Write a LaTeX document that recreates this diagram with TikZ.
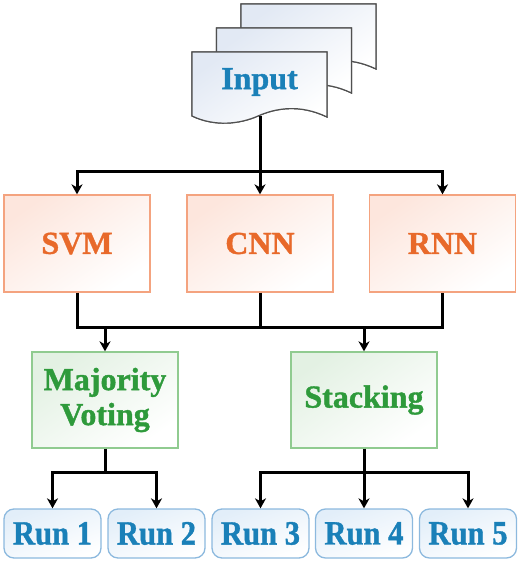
\documentclass[tikz,border=0pt]{standalone}
\usepackage{fontspec}
\setmainfont{Liberation Serif}[BoldFeatures={FakeBold=1.2}]
\usetikzlibrary{arrows.meta}
\definecolor{txtblue}{HTML}{1A80B8}
\definecolor{bdblue}{HTML}{8CB9DE}
\definecolor{fillblue}{HTML}{E2EEF9}
\definecolor{txtorange}{HTML}{E8692A}
\definecolor{bdorange}{HTML}{F4A37F}
\definecolor{fillorange}{HTML}{FDE6DD}
\definecolor{txtgreen}{HTML}{2E9A3B}
\definecolor{bdgreen}{HTML}{90CB90}
\definecolor{fillgreen}{HTML}{E3F1E3}
\definecolor{docgray}{HTML}{505050}
\definecolor{docfill}{HTML}{E2E9F4}
\tikzset{
  bigtxt/.style={font=\bfseries\fontsize{32}{35}\selectfont, align=center},
  model/.style={bigtxt, draw=bdorange, line width=1.3pt, text=txtorange, minimum width=146pt, minimum height=97pt, inner sep=0pt, top color=fillorange, bottom color=white, shading angle=35},
  ens/.style={bigtxt, draw=bdgreen, line width=1.3pt, text=txtgreen, minimum width=146pt, minimum height=96pt, inner sep=0pt, top color=fillgreen, bottom color=white, shading angle=35},
  runbox/.style={font=\bfseries\fontsize{34}{35}\selectfont, draw=bdblue, line width=1.3pt, text=txtblue, minimum width=97pt, minimum height=49pt, inner sep=0pt, rounded corners=10pt, top color=fillblue, bottom color=white, shading angle=20},
  doc/.style={draw=docgray, line width=1.2pt, top color=docfill, bottom color=white, shading angle=35},
  conn/.style={line width=3pt, black, line join=miter},
  arr/.style={conn, -{Stealth[length=10pt,width=11pt,inset=3pt]}}
}
\newcommand{\docpath}[2]{% #1 = x offset, #2 = y offset
  (192+#1,52+#2) -- (327+#1,52+#2) -- (327+#1,117+#2)
  .. controls (300+#1,104+#2) and (276+#1,108+#2) .. (258+#1,116+#2)
  .. controls (240+#1,124+#2) and (215+#1,127+#2) .. (192+#1,116+#2) -- cycle}
\begin{document}
\begin{tikzpicture}[x=1pt,y=-1pt]
\useasboundingbox (0,0) rectangle (520,563);
% input documents stack
\shade[doc] \docpath{49}{-48};
\draw[doc] \docpath{49}{-48};
\shade[doc] \docpath{24.5}{-24};
\draw[doc] \docpath{24.5}{-24};
\shade[doc] \docpath{0}{0};
\draw[doc] \docpath{0}{0};
\node[bigtxt, text=txtblue] (input) at (259.5,82) {Input};
\coordinate (inb) at (260,116);
% models
\node[model] (svm) at (77,243.5) {SVM};
\node[model] (cnn) at (260,243.5) {CNN};
\node[model] (rnn) at (442.5,243.5) {RNN};
% ensembles
\node[ens] (maj) at (105,400) {Majority\\Voting};
\node[ens] (stack) at (364,400) {Stacking};
% runs
\node[runbox] (r1) at (52.5,533.5) {\scalebox{0.9}[1]{Run 1}};
\node[runbox] (r2) at (156.5,533.5) {\scalebox{0.9}[1]{Run 2}};
\node[runbox] (r3) at (260.5,533.5) {\scalebox{0.9}[1]{Run 3}};
\node[runbox] (r4) at (364,533.5) {\scalebox{0.9}[1]{Run 4}};
\node[runbox] (r5) at (468,533.5) {\scalebox{0.9}[1]{Run 5}};
% junctions
\coordinate (j1) at (260,171);
\coordinate (j2) at (105,327);
\coordinate (j3) at (364,327);
\coordinate (j4) at (105,472);
\coordinate (j5) at (364,472);
% connectors
\draw[conn] (inb) -- (j1);
\draw[arr] (j1) -| (svm);
\draw[arr] (j1) -- (cnn);
\draw[arr] (j1) -| (rnn);
\draw[conn] (svm.south) |- (j2) -- (j3) -| (rnn.south);
\draw[conn] (cnn.south) -- (cnn.south |- j2);
\draw[arr] (j2) -- (maj);
\draw[arr] (j3) -- (stack);
\draw[conn] (maj.south) -- (j4);
\draw[arr] (j4) -| (r1);
\draw[arr] (j4) -| (r2);
\draw[conn] (stack.south) -- (j5);
\draw[arr] (j5) -| (r3);
\draw[arr] (j5) -- (r4);
\draw[arr] (j5) -| (r5);
\end{tikzpicture}
\end{document}
